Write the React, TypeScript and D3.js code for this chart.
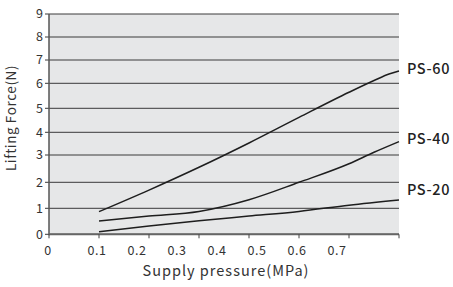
import React from "react";
import * as d3 from "d3";

const xTicks = [0, 0.1, 0.2, 0.3, 0.4, 0.5, 0.6, 0.7];
const xTickLabels = ["0", "0.1", "0.2", "0.3", "0.4", "0.5", "0.6", "0.7"];
const yTicks = [0, 1, 2, 3, 4, 5, 6, 7, 8, 9];

const seriesNames = ["PS-60", "PS-40", "PS-20"];
const ps60X = [0.1, 0.2, 0.3, 0.4, 0.5, 0.6, 0.65, 0.68, 0.7];
const ps60Y = [0.87, 1.7, 2.55, 3.53, 4.62, 5.64, 6.12, 6.4, 6.53];
const ps40X = [0.1, 0.2, 0.3, 0.4, 0.5, 0.6, 0.65, 0.7];
const ps40Y = [0.51, 0.7, 0.88, 1.33, 2.0, 2.68, 3.12, 3.59];
const ps20X = [0.1, 0.2, 0.3, 0.4, 0.5, 0.6, 0.7];
const ps20Y = [0.1, 0.32, 0.52, 0.7, 0.88, 1.12, 1.32];

const W = 453;
const H = 287;
const left = 49;
const right = 399;

export default function App() {
  const x = d3.scaleLinear().domain([0, 0.7]).range([left, right]);
  // y gridlines in the reference are unevenly spaced
  const y = d3
    .scaleLinear()
    .domain(yTicks)
    .range([234.3, 208.3, 182.3, 155, 132.3, 108.3, 83.3, 60, 37, 14]);
  // tick labels in the reference drift away from their ticks
  const labelX = d3
    .scaleLinear()
    .domain([0, 0.1, 0.7])
    .range([x(0) - 1, x(0.1) - 2, x(0.7) - 62]);

  const line = d3
    .line<[number, number]>()
    .x((d) => x(d[0]))
    .y((d) => y(d[1]))
    .curve(d3.curveMonotoneX);

  const series = [
    { name: seriesNames[0], xs: ps60X, ys: ps60Y },
    { name: seriesNames[1], xs: ps40X, ys: ps40Y },
    { name: seriesNames[2], xs: ps20X, ys: ps20Y },
  ];
  const labelY = [69, 139, 189.5];

  const font = "'Noto Sans CJK SC', 'Noto Sans', sans-serif";
  const y0 = y(0);
  const yTop = y(9);

  return (
    <svg
      width={W}
      height={H}
      style={{ position: "absolute", left: 0, top: 0, background: "#fff" }}
      fontFamily={font}
    >
      <rect x={left} y={yTop} width={right - left} height={y0 - yTop} fill="#e6e7e8" />
      {yTicks.map((t) => (
        <line
          key={"g" + t}
          x1={left - 4}
          x2={right}
          y1={y(t)}
          y2={y(t)}
          stroke="#3a3a3a"
          strokeWidth={1}
        />
      ))}
      {yTicks.map((t) => (
        <text
          key={"yl" + t}
          x={43}
          y={y(t)}
          dy="0.35em"
          textAnchor="end"
          fontSize={12.5}
          fill="#333"
        >
          {t}
        </text>
      ))}
      <line x1={left} x2={left} y1={yTop} y2={y0 + 1} stroke="#555" strokeWidth={1.5} />
      <line x1={left} x2={right} y1={y0} y2={y0} stroke="#666" strokeWidth={2} />
      {xTicks.map((t, i) => (
        <line
          key={"xt" + i}
          x1={x(t)}
          x2={x(t)}
          y1={y0}
          y2={y0 + 4}
          stroke="#444"
          strokeWidth={1}
        />
      ))}
      {xTicks.map((t, i) => (
        <text
          key={"xl" + t}
          x={labelX(t)}
          y={255}
          textAnchor="middle"
          fontSize={12.5}
          letterSpacing={0.6}
          fill="#333"
        >
          {xTickLabels[i]}
        </text>
      ))}
      {series.map((s) => (
        <path
          key={s.name}
          d={line(s.xs.map((v, i) => [v, s.ys[i]] as [number, number])) || ""}
          fill="none"
          stroke="#1e1e1e"
          strokeWidth={1.5}
        />
      ))}
      {series.map((s, i) => (
        <text
          key={"sl" + s.name}
          x={407}
          y={labelY[i]}
          dy="0.35em"
          fontSize={14.5}
          letterSpacing={0.6}
          fontWeight={500}
          fill="#222"
        >
          {s.name}
        </text>
      ))}
      <text
        x={226}
        y={276}
        textAnchor="middle"
        fontSize={14.5}
        letterSpacing={1}
        fill="#333"
      >
        Supply pressure(MPa)
      </text>
      <text
        transform={`translate(16,118) rotate(-90)`}
        textAnchor="middle"
        fontSize={13.5}
        letterSpacing={0.6}
        fill="#333"
      >
        Lifting Force(N)
      </text>
    </svg>
  );
}
